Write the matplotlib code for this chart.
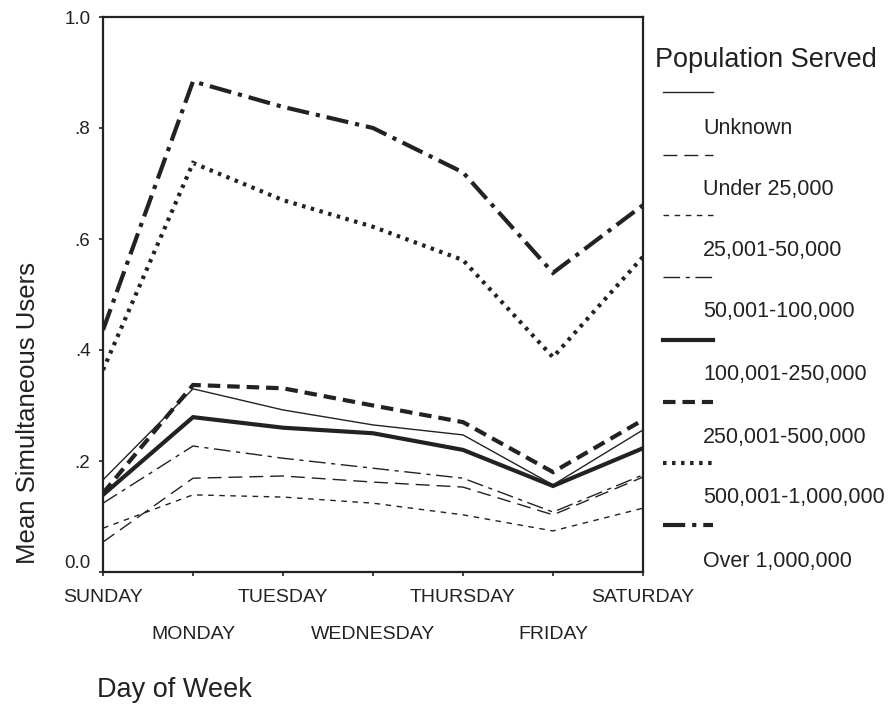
import matplotlib
matplotlib.use("Agg")
import matplotlib.pyplot as plt
from matplotlib.lines import Line2D

plt.rcParams['font.family'] = ['Liberation Sans', 'DejaVu Sans']
plt.rcParams['lines.scale_dashes'] = False

days = ["SUNDAY", "MONDAY", "TUESDAY", "WEDNESDAY", "THURSDAY", "FRIDAY", "SATURDAY"]

unknown = [0.166, 0.330, 0.292, 0.265, 0.247, 0.157, 0.256]
under_25k = [0.054, 0.169, 0.173, 0.162, 0.153, 0.103, 0.171]
pop_25k_50k = [0.079, 0.139, 0.135, 0.124, 0.103, 0.074, 0.115]
pop_50k_100k = [0.124, 0.227, 0.205, 0.187, 0.169, 0.108, 0.175]
pop_100k_250k = [0.139, 0.279, 0.260, 0.250, 0.220, 0.155, 0.223]
pop_250k_500k = [0.142, 0.337, 0.331, 0.300, 0.270, 0.180, 0.274]
pop_500k_1m = [0.364, 0.737, 0.670, 0.622, 0.562, 0.387, 0.568]
over_1m = [0.436, 0.884, 0.838, 0.800, 0.720, 0.539, 0.661]

labels = ["Unknown", "Under 25,000", "25,001-50,000", "50,001-100,000",
          "100,001-250,000", "250,001-500,000", "500,001-1,000,000",
          "Over 1,000,000"]
series = [unknown, under_25k, pop_25k_50k, pop_50k_100k,
          pop_100k_250k, pop_250k_500k, pop_500k_1m, over_1m]

# (linewidth, dash pattern in points; None = solid)
styles = [
    (1.0, None),
    (1.0, (10, 5)),
    (1.0, (4, 4)),
    (1.0, (12, 4, 3, 4)),
    (3.0, None),
    (3.0, (9, 5)),
    (3.0, (2.5, 4)),
    (3.0, (16, 5, 3, 5)),
]

W, H = 893, 713
fig = plt.figure(figsize=(W / 100, H / 100), dpi=100)
ax = fig.add_axes([103 / W, 1 - 572 / H, (643 - 103) / W, (572 - 17) / H])

x = list(range(len(days)))
for vals, (lw, dash) in zip(series, styles):
    line, = ax.plot(x, vals, color="#222222", lw=lw, solid_joinstyle="miter",
                    dash_joinstyle="miter", dash_capstyle="butt")
    if dash is not None:
        line.set_dashes(dash)

ax.set_xlim(0, 6)
ax.set_ylim(0, 1.0)
ax.set_yticks([0, 0.2, 0.4, 0.6, 0.8, 1.0])
ax.set_yticklabels(["0.0", ".2", ".4", ".6", ".8", "1.0"])

# day names alternate between two rows: even days as major, odd as minor ticks
ax.set_xticks(x[::2])
ax.set_xticklabels(days[::2])
ax.set_xticks(x[1::2], minor=True)
ax.set_xticklabels(days[1::2], minor=True)

ax.tick_params(axis="both", which="both", length=3, width=1.2,
               color="#222222", labelcolor="#222222")
ax.tick_params(axis="y", pad=6, labelsize=13.5)
ax.tick_params(axis="x", which="major", pad=9.5, labelsize=14)
ax.tick_params(axis="x", which="minor", pad=36, labelsize=14)
for sp in ax.spines.values():
    sp.set_linewidth(1.6)
    sp.set_color("#222222")
ax.get_yticklabels()[0].set_verticalalignment("bottom")

fig.text(28 / W, 1 - 413 / H, "Mean Simultaneous Users", rotation=90,
         ha="center", va="center", fontsize=18.5, color="#222222")
fig.text(97 / W, 1 - 690 / H, "Day of Week", ha="left", va="center",
         fontsize=19.5, color="#222222")

# legend drawn in figure pixel coordinates
fig.text(655 / W, 1 - 60 / H, "Population Served", ha="left", va="center",
         fontsize=19.5, color="#222222")
sample_y = [92, 155, 215, 277, 340, 402, 463, 525]
label_y = [128, 190, 250, 312, 375, 437, 498, 562]
for lab, (lw, dash), sy, ly in zip(labels, styles, sample_y, label_y):
    ln = Line2D([663 / W, 713 / W], [1 - sy / H, 1 - sy / H],
                transform=fig.transFigure, color="#222222", lw=lw,
                dash_capstyle="butt")
    if dash is not None:
        ln.set_dashes(dash)
    fig.add_artist(ln)
    fig.text(703 / W, 1 - ly / H, lab, ha="left", va="center", fontsize=15.5,
             color="#222222")

fig.savefig("out.png", dpi=100)
